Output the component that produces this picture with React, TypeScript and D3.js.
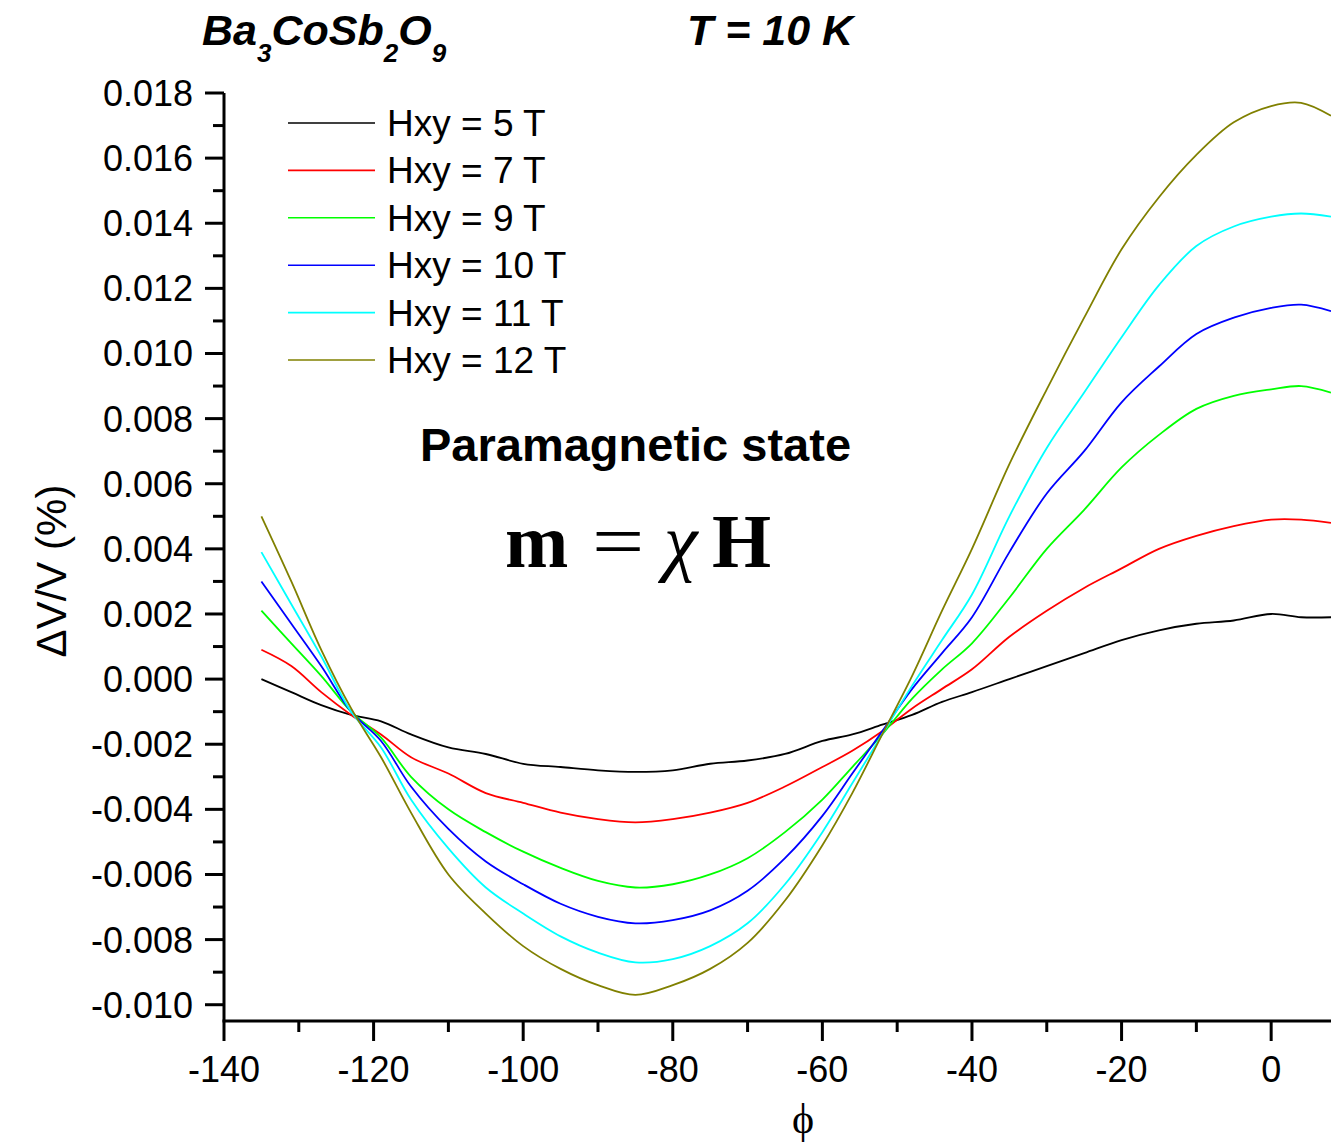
import React from 'react';
import * as d3 from 'd3';

// angle phi (deg)
const phi = [-135, -131, -127, -123, -119, -115, -110, -105, -100, -95, -90, -85, -80, -75, -70, -65, -60, -56, -52, -48, -44, -40, -35, -30, -25, -20, -15, -10, -5, 0, 4, 8];

// ΔV/V (%) for each field
const h5 = [0.0000, -0.0004, -0.0008, -0.0011, -0.0013, -0.0017, -0.0021, -0.0023, -0.0026, -0.0027, -0.0028, -0.00285, -0.0028, -0.0026, -0.0025, -0.0023, -0.0019, -0.0017, -0.0014, -0.0011, -0.0007, -0.0004, 0.0000, 0.0004, 0.0008, 0.0012, 0.0015, 0.0017, 0.0018, 0.0020, 0.0019, 0.0019];
const h7 = [0.0009, 0.0004, -0.0004, -0.0011, -0.0017, -0.0024, -0.0029, -0.0035, -0.0038, -0.0041, -0.0043, -0.0044, -0.0043, -0.0041, -0.0038, -0.0033, -0.0027, -0.0022, -0.0016, -0.0009, -0.0003, 0.0003, 0.0013, 0.0021, 0.0028, 0.0034, 0.0040, 0.0044, 0.0047, 0.0049, 0.0049, 0.0048];
const h9 = [0.0021, 0.0011, 0.0001, -0.0010, -0.0018, -0.0030, -0.0040, -0.0047, -0.0053, -0.0058, -0.0062, -0.0064, -0.0063, -0.0060, -0.0055, -0.0047, -0.0037, -0.0027, -0.0017, -0.0006, 0.0003, 0.0011, 0.0025, 0.0040, 0.0052, 0.0065, 0.0075, 0.0083, 0.0087, 0.0089, 0.0090, 0.0088];
const h10 = [0.0030, 0.0017, 0.0004, -0.0010, -0.0019, -0.0033, -0.0046, -0.0056, -0.0063, -0.0069, -0.0073, -0.0075, -0.0074, -0.0071, -0.0065, -0.0055, -0.0042, -0.0029, -0.0016, -0.0003, 0.0008, 0.0019, 0.0039, 0.0057, 0.0070, 0.0085, 0.0096, 0.0106, 0.0111, 0.0114, 0.0115, 0.0113];
const h11 = [0.0039, 0.0023, 0.0007, -0.0010, -0.0021, -0.0037, -0.0052, -0.0064, -0.0072, -0.0079, -0.0084, -0.0087, -0.0086, -0.0082, -0.0075, -0.0063, -0.0047, -0.0032, -0.0017, -0.0002, 0.0012, 0.0026, 0.0050, 0.0071, 0.0088, 0.0105, 0.0121, 0.0133, 0.0139, 0.0142, 0.0143, 0.0142];
const h12 = [0.0050, 0.0030, 0.0009, -0.0009, -0.0024, -0.0041, -0.0060, -0.0072, -0.0082, -0.0089, -0.0094, -0.0097, -0.0094, -0.0089, -0.0081, -0.0068, -0.0051, -0.0035, -0.0017, 0.0001, 0.0021, 0.0040, 0.0066, 0.0089, 0.0111, 0.0132, 0.0148, 0.0161, 0.0171, 0.0176, 0.0177, 0.0173];

const seriesValues = [h5, h7, h9, h10, h11, h12];
const seriesLabels = ['Hxy = 5 T', 'Hxy = 7 T', 'Hxy = 9 T', 'Hxy = 10 T', 'Hxy = 11 T', 'Hxy = 12 T'];
const seriesColors = ['#000000', '#ff0000', '#00ff00', '#0000ff', '#00ffff', '#808000'];

const xMajorTicks = [-140, -120, -100, -80, -60, -40, -20, 0];
const xMinorTicks = [-130, -110, -90, -70, -50, -30, -10];
const yMajorTicks = [-0.010, -0.008, -0.006, -0.004, -0.002, 0.000, 0.002, 0.004, 0.006, 0.008, 0.010, 0.012, 0.014, 0.016, 0.018];
const yMinorTicks = [-0.009, -0.007, -0.005, -0.003, -0.001, 0.001, 0.003, 0.005, 0.007, 0.009, 0.011, 0.013, 0.015, 0.017];

const SANS = '"Liberation Sans", Arial, Helvetica, sans-serif';
const SERIF = '"Liberation Serif", "Times New Roman", serif';

export default function App() {
  const W = 1331;
  const H = 1146;
  const x = d3.scaleLinear().domain([-140, 8]).range([224, 1331]);
  const y = d3.scaleLinear().domain([-0.0105, 0.018]).range([1021, 93]);
  const [x0, x1] = x.range();
  const [yb, yt] = y.range();

  const line = d3
    .line<number>()
    .x((_, i) => x(phi[i]))
    .y((d) => y(d))
    .curve(d3.curveCatmullRom.alpha(0.5));

  const fmt = (v: number) => d3.format('.3f')(v).replace('\u2212', '-');

  const legendY0 = 123;
  const legendDy = 47.4;

  return (
    <svg
      width={W}
      height={H}
      viewBox={`0 0 ${W} ${H}`}
      style={{ position: 'absolute', left: 0, top: 0, background: '#fff' }}
    >
      <rect x={0} y={0} width={W} height={H} fill="#fff" />
      <defs>
        <clipPath id="plotclip">
          <rect x={x0} y={0} width={x1 - x0} height={yb} />
        </clipPath>
      </defs>

      {/* Title */}
      <text x={202} y={45} fontFamily={SANS} fontWeight="bold" fontStyle="italic" fontSize={43} fill="#000">
        Ba<tspan fontSize={26} dy={17}>3</tspan>
        <tspan dy={-17}>CoSb</tspan>
        <tspan fontSize={26} dy={17}>2</tspan>
        <tspan dy={-17}>O</tspan>
        <tspan fontSize={26} dy={17}>9</tspan>
      </text>
      <text x={687} y={45} fontFamily={SANS} fontWeight="bold" fontStyle="italic" fontSize={43} fill="#000">
        T = 10 K
      </text>

      {/* Curves */}
      <g clipPath="url(#plotclip)">
        {seriesValues.map((vals, si) => (
          <path key={si} d={line(vals) || ''} fill="none" stroke={seriesColors[si]} strokeWidth={1.8} strokeLinejoin="round" />
        ))}
      </g>

      {/* Axes lines */}
      <line x1={x0} y1={yt} x2={x0} y2={yb} stroke="#000" strokeWidth={3} />
      <line x1={x0 - 1.5} y1={yb} x2={x1} y2={yb} stroke="#000" strokeWidth={3} />

      {/* Y ticks */}
      {yMajorTicks.map((v) => (
        <g key={'ym' + v}>
          <line x1={x0} x2={x0 - 19} y1={y(v)} y2={y(v)} stroke="#000" strokeWidth={3} />
          <text x={193} y={y(v) + 13} textAnchor="end" fontFamily={SANS} fontSize={36} fill="#000">
            {fmt(v)}
          </text>
        </g>
      ))}
      {yMinorTicks.map((v) => (
        <line key={'yn' + v} x1={x0} x2={x0 - 11} y1={y(v)} y2={y(v)} stroke="#000" strokeWidth={3} />
      ))}

      {/* X ticks */}
      {xMajorTicks.map((v) => (
        <g key={'xm' + v}>
          <line x1={x(v)} x2={x(v)} y1={yb} y2={yb + 20} stroke="#000" strokeWidth={3} />
          <text x={x(v)} y={1082} textAnchor="middle" fontFamily={SANS} fontSize={36} fill="#000">
            {String(v)}
          </text>
        </g>
      ))}
      {xMinorTicks.map((v) => (
        <line key={'xn' + v} x1={x(v)} x2={x(v)} y1={yb} y2={yb + 11} stroke="#000" strokeWidth={3} />
      ))}

      {/* Axis labels */}
      <text x={803} y={1133} textAnchor="middle" fontFamily={SERIF} fontSize={42} fill="#000">
        ϕ
      </text>
      <text
        transform={`translate(66, 571) rotate(-90)`}
        textAnchor="middle"
        fontFamily={SANS}
        fontSize={42}
        fill="#000"
      >
        ΔV/V (%)
      </text>

      {/* Legend */}
      {seriesLabels.map((lab, i) => (
        <g key={lab}>
          <line x1={288} x2={375} y1={legendY0 + i * legendDy} y2={legendY0 + i * legendDy} stroke={seriesColors[i]} strokeWidth={1.6} />
          <text x={387} y={legendY0 + i * legendDy + 13} fontFamily={SANS} fontSize={37} fill="#000">
            {lab}
          </text>
        </g>
      ))}

      {/* Annotations */}
      <text x={420} y={461} fontFamily={SANS} fontWeight="bold" fontSize={47} fill="#000">
        Paramagnetic state
      </text>
      <g fontFamily={SERIF} fontSize={76} fill="#000">
        <text x={505} y={567} fontWeight="bold">m</text>
        <text transform="translate(592,567) scale(1.22,1)">=</text>
        <text x={664} y={567} fontStyle="italic">χ</text>
        <text x={712} y={567} fontWeight="bold">H</text>
      </g>
    </svg>
  );
}
